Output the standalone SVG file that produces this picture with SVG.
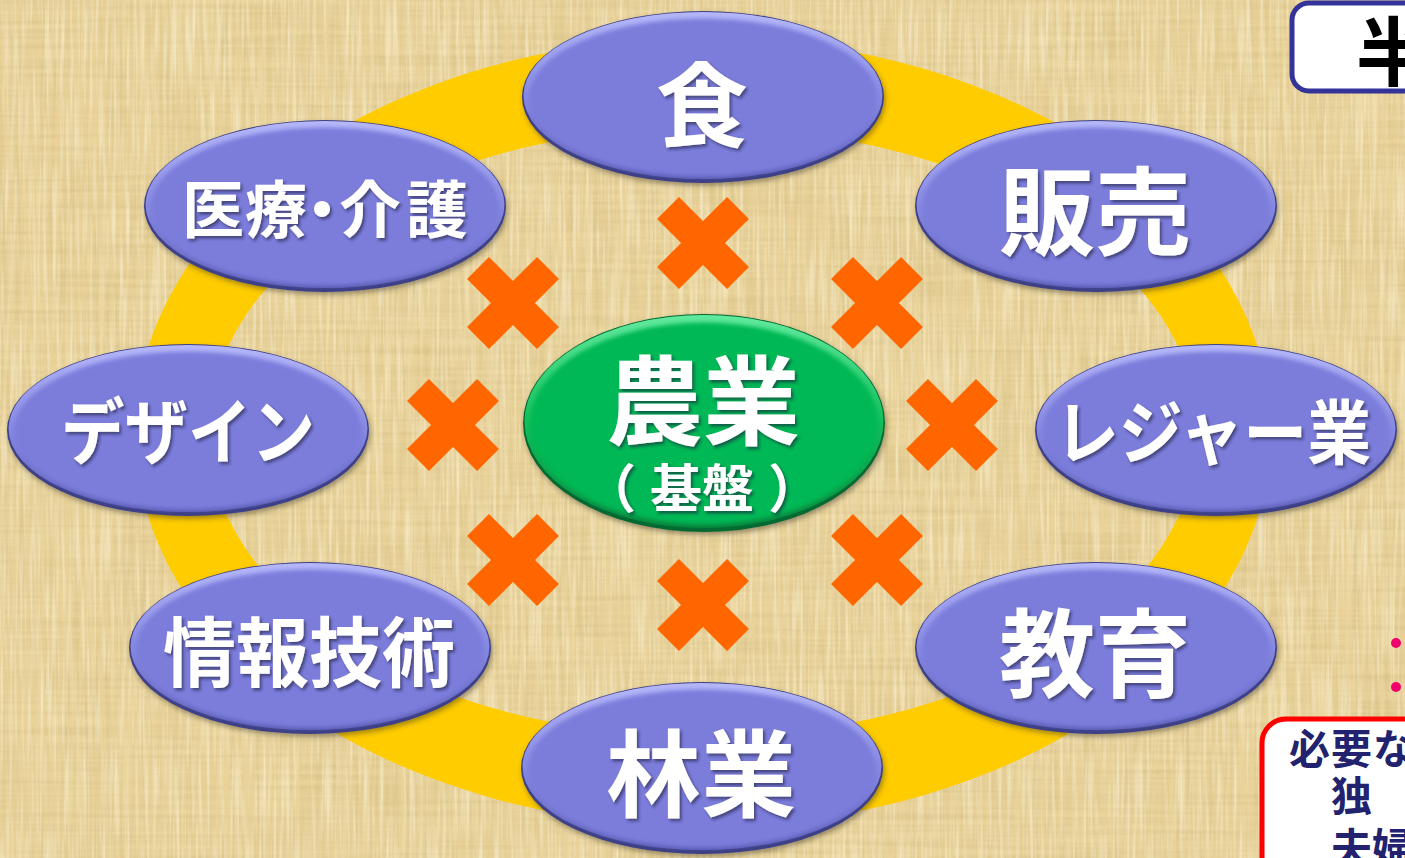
<svg xmlns="http://www.w3.org/2000/svg" xmlns:xlink="http://www.w3.org/1999/xlink" width="1405" height="858" viewBox="0 0 1405 858">
<style>
.lbl{font-family:"Noto Sans CJK JP","Noto Sans CJK SC",sans-serif;font-weight:bold;fill:#ffffff;text-anchor:middle;dominant-baseline:central;filter:url(#tshadow)}
.side{font-family:"Noto Sans CJK JP","Noto Sans CJK SC",sans-serif;font-weight:bold;dominant-baseline:central}
</style>
<defs>
<filter id="paper" x="0" y="0" width="100%" height="100%" filterUnits="userSpaceOnUse">
<feTurbulence type="fractalNoise" baseFrequency="0.2 0.006" numOctaves="2" seed="3" result="v"/>
<feTurbulence type="fractalNoise" baseFrequency="0.006 0.2" numOctaves="2" seed="11" result="h"/>
<feComposite in="v" in2="h" operator="arithmetic" k2="0.5" k3="0.5" result="n"/>
<feColorMatrix in="n" type="matrix" values="0 0 0 0 0.6  0 0 0 0 0.46  0 0 0 0 0.18  1.25 0 0 0 -0.5"/>
</filter>
<filter id="paper2" x="0" y="0" width="100%" height="100%" filterUnits="userSpaceOnUse">
<feTurbulence type="fractalNoise" baseFrequency="0.3 0.012" numOctaves="2" seed="21" result="n"/>
<feColorMatrix in="n" type="matrix" values="0 0 0 0 1  0 0 0 0 0.96  0 0 0 0 0.8  0 1.2 0 0 -0.52"/>
</filter>
<filter id="tshadow" x="-10%" y="-20%" width="120%" height="140%">
<feDropShadow dx="2" dy="2.5" stdDeviation="1.5" flood-color="#1a1a3a" flood-opacity="0.6"/>
</filter>
<filter id="dshadow" x="-10%" y="-15%" width="120%" height="135%">
<feDropShadow dx="1.5" dy="3" stdDeviation="2.5" flood-color="#3a3020" flood-opacity="0.45"/>
</filter>
<filter id="soft" x="-5%" y="-5%" width="110%" height="110%">
<feGaussianBlur stdDeviation="2.2"/>
</filter>
<linearGradient id="pRim" x1="0" y1="0" x2="0" y2="1">
<stop offset="0" stop-color="#b6b8fa"/>
<stop offset="0.5" stop-color="#8789e2"/>
<stop offset="1" stop-color="#5a5cb4"/>
</linearGradient>
<linearGradient id="gRim" x1="0" y1="0" x2="0" y2="1">
<stop offset="0" stop-color="#62ea9e"/>
<stop offset="0.5" stop-color="#12bf5c"/>
<stop offset="1" stop-color="#07823b"/>
</linearGradient>
<g id="pill">
<ellipse cx="0" cy="0" rx="181" ry="86" fill="#3d3f86" filter="url(#dshadow)"/>
<ellipse cx="0" cy="-1.5" rx="179.5" ry="83.5" fill="url(#pRim)"/>
<ellipse cx="0" cy="0.5" rx="174" ry="79" fill="#7b7ddb" filter="url(#soft)"/>
</g>
<g id="cross">
<rect x="-49.5" y="-15.5" width="99" height="31" fill="#ff6600" transform="rotate(45)"/>
<rect x="-49.5" y="-15.5" width="99" height="31" fill="#ff6600" transform="rotate(-45)"/>
</g>
</defs>

<g id="background">
<rect x="0" y="0" width="1405" height="858" fill="#e9d39b"/>
<rect x="0" y="0" width="1405" height="858" filter="url(#paper)"/>
<rect x="0" y="0" width="1405" height="858" filter="url(#paper2)"/>
</g>

<g id="connectors">
<path id="ring" fill="#ffcc00" fill-rule="evenodd" d="M135,432 a568,394 0 1,0 1136,0 a568,394 0 1,0 -1136,0 Z M208,432 a495,305 0 1,0 990,0 a495,305 0 1,0 -990,0 Z"/>
<use xlink:href="#cross" href="#cross" x="703" y="243"/>
<use xlink:href="#cross" href="#cross" x="513" y="303"/>
<use xlink:href="#cross" href="#cross" x="877" y="303"/>
<use xlink:href="#cross" href="#cross" x="453" y="425"/>
<use xlink:href="#cross" href="#cross" x="952" y="425"/>
<use xlink:href="#cross" href="#cross" x="513" y="560"/>
<use xlink:href="#cross" href="#cross" x="877" y="560"/>
<use xlink:href="#cross" href="#cross" x="703" y="605"/>
</g>

<g id="node-shoku">
<use xlink:href="#pill" href="#pill" x="703" y="97"/>
<text class="lbl" x="702" y="99" font-size="92">食</text>
</g>
<g id="node-iryo">
<use xlink:href="#pill" href="#pill" x="325" y="206"/>
<text class="lbl" x="213 276 322 370 437" y="206" font-size="62">医療・介護</text>
</g>
<g id="node-hanbai">
<use xlink:href="#pill" href="#pill" x="1096" y="206"/>
<text class="lbl" x="1095" y="205" font-size="96">販売</text>
</g>
<g id="node-design">
<use xlink:href="#pill" href="#pill" x="188" y="430"/>
<text class="lbl" x="188" y="426" font-size="72" textLength="254" lengthAdjust="spacingAndGlyphs">デザイン</text>
</g>
<g id="node-leisure">
<use xlink:href="#pill" href="#pill" x="1216" y="430"/>
<text class="lbl" x="1213" y="428" font-size="70" textLength="316" lengthAdjust="spacingAndGlyphs">レジャー業</text>
</g>
<g id="node-joho">
<use xlink:href="#pill" href="#pill" x="310" y="648"/>
<text class="lbl" x="309" y="648" font-size="76" textLength="292" lengthAdjust="spacingAndGlyphs">情報技術</text>
</g>
<g id="node-kyoiku">
<use xlink:href="#pill" href="#pill" x="1096" y="648"/>
<text class="lbl" x="1095" y="647" font-size="96">教育</text>
</g>
<g id="node-ringyo">
<use xlink:href="#pill" href="#pill" x="702" y="768"/>
<text class="lbl" x="701" y="768" font-size="95">林業</text>
</g>
<g id="node-nogyo">
<ellipse cx="704" cy="423" rx="181" ry="109" fill="#056b30" filter="url(#dshadow)"/>
<ellipse cx="704" cy="421.5" rx="179.5" ry="106.5" fill="url(#gRim)"/>
<ellipse cx="704" cy="423.5" rx="174" ry="101" fill="#05b854" filter="url(#soft)"/>
<text class="lbl" x="703" y="394" font-size="97">農業</text>
<text class="lbl" x="636" y="485" font-size="52" style="text-anchor:end">（</text>
<text class="lbl" x="702" y="485" font-size="52">基盤</text>
<text class="lbl" x="768" y="485" font-size="52" style="text-anchor:start">）</text>
</g>

<g id="box-top">
<rect x="1292" y="3" width="200" height="88" rx="17" fill="#ffffff" stroke="#333399" stroke-width="5"/>
<text class="side" x="1356" y="47" font-size="75" fill="#000000">半</text>
</g>
<g id="bullets">
<circle cx="1396" cy="643" r="5" fill="#f0006c"/>
<circle cx="1396" cy="687" r="5" fill="#f0006c"/>
</g>
<g id="box-bottom">
<rect x="1262" y="719" width="220" height="200" rx="24" fill="#ffffff" stroke="#ff0000" stroke-width="5"/>
<text class="side" x="1289 1331 1373" y="746" font-size="41" fill="#22226e">必要な</text>
<text class="side" x="1331" y="793" font-size="41" fill="#22226e">独</text>
<text class="side" x="1331 1372" y="845" font-size="41" fill="#22226e">夫婦</text>
</g>
</svg>
